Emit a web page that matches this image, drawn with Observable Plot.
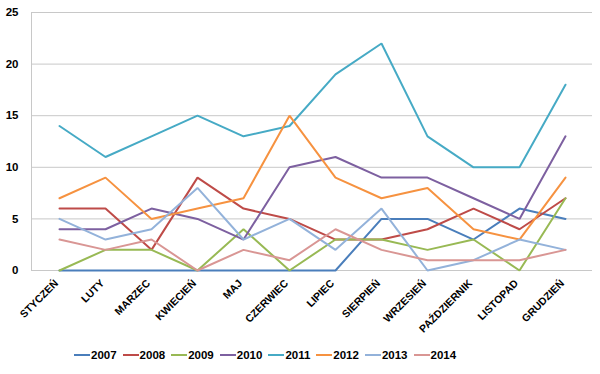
<!DOCTYPE html>
<html>
<head>
<meta charset="utf-8">
<script src="https://cdn.jsdelivr.net/npm/d3@7"></script>
<script src="https://cdn.jsdelivr.net/npm/@observablehq/plot@0.6"></script>
<style>
  html, body { margin: 0; padding: 0; background: #fff; }
  #chart { width: 600px; }
  .legend { display: flex; justify-content: flex-start; align-items: center; height: 26px;
    font: bold 11.5px "Liberation Sans", Arial, sans-serif; color: #000; padding-left: 74px; }
  .legend .item { display: flex; align-items: center; margin-right: 6px; }
  .legend .sw { display: inline-block; width: 16px; height: 2px; margin-right: 1px; }
</style>
</head>
<body>
<div id="chart"></div>
<script>
const months = ["STYCZEŃ","LUTY","MARZEC","KWIECIEŃ","MAJ","CZERWIEC","LIPIEC","SIERPIEŃ","WRZESIEŃ","PAŹDZIERNIK","LISTOPAD","GRUDZIEŃ"];
const years = ["2007","2008","2009","2010","2011","2012","2013","2014"];
const colors = ["#4A7EBB","#BE4B48","#98B954","#7D60A0","#46AAC5","#F69240","#93B2DA","#D99694"];
const yTicks = [0,5,10,15,20,25];

const v2007 = [0,0,0,0,0,0,0,5,5,3,6,5];
const v2008 = [6,6,2,9,6,5,3,3,4,6,4,7];
const v2009 = [0,2,2,0,4,0,3,3,2,3,0,7];
const v2010 = [4,4,6,5,3,10,11,9,9,7,5,13];
const v2011 = [14,11,13,15,13,14,19,22,13,10,10,18];
const v2012 = [7,9,5,6,7,15,9,7,8,4,3,9];
const v2013 = [5,3,4,8,3,5,2,6,0,1,3,2];
const v2014 = [3,2,3,0,2,1,4,2,1,1,1,2];

const series = [v2007,v2008,v2009,v2010,v2011,v2012,v2013,v2014];
const data = [];
series.forEach((vals, i) => vals.forEach((v, j) => data.push({year: years[i], month: months[j], value: v})));

const font = '"Liberation Sans", Arial, sans-serif';
const chart = Plot.plot({
  width: 600,
  height: 342,
  marginTop: 12,
  marginBottom: 72,
  marginLeft: 31,
  marginRight: 8,
  style: {fontFamily: font, fontSize: "10px", fontWeight: "bold", color: "#000", background: "#fff"},
  x: {type: "point", domain: months, padding: 0.5, label: null},
  y: {domain: [0, 25], label: null},
  color: {domain: years, range: colors},
  marks: [
    Plot.ruleY(yTicks, {stroke: "#c8c8c8", strokeWidth: 1}),
    Plot.frame({anchor: "left", stroke: "#c8c8c8"}),
    Plot.axisY({ticks: yTicks, tickSize: 0, tickPadding: 13, fontSize: 11.5, fontWeight: "bold", label: null}),
    Plot.axisX({tickSize: 0, tickPadding: 11, dx: -3, tickRotate: -45, fontSize: 10.5, fontWeight: "bold", label: null}),
    Plot.line(data, {x: "month", y: "value", z: "year", stroke: "year", strokeWidth: 2, strokeLinejoin: "miter"})
  ]
});
document.getElementById("chart").appendChild(chart);

const legend = document.createElement("div");
legend.className = "legend";
years.forEach((y, i) => {
  const item = document.createElement("span");
  item.className = "item";
  const sw = document.createElement("span");
  sw.className = "sw";
  sw.style.background = colors[i];
  item.appendChild(sw);
  item.appendChild(document.createTextNode(y));
  legend.appendChild(item);
});
document.getElementById("chart").appendChild(legend);
</script>
</body>
</html>
